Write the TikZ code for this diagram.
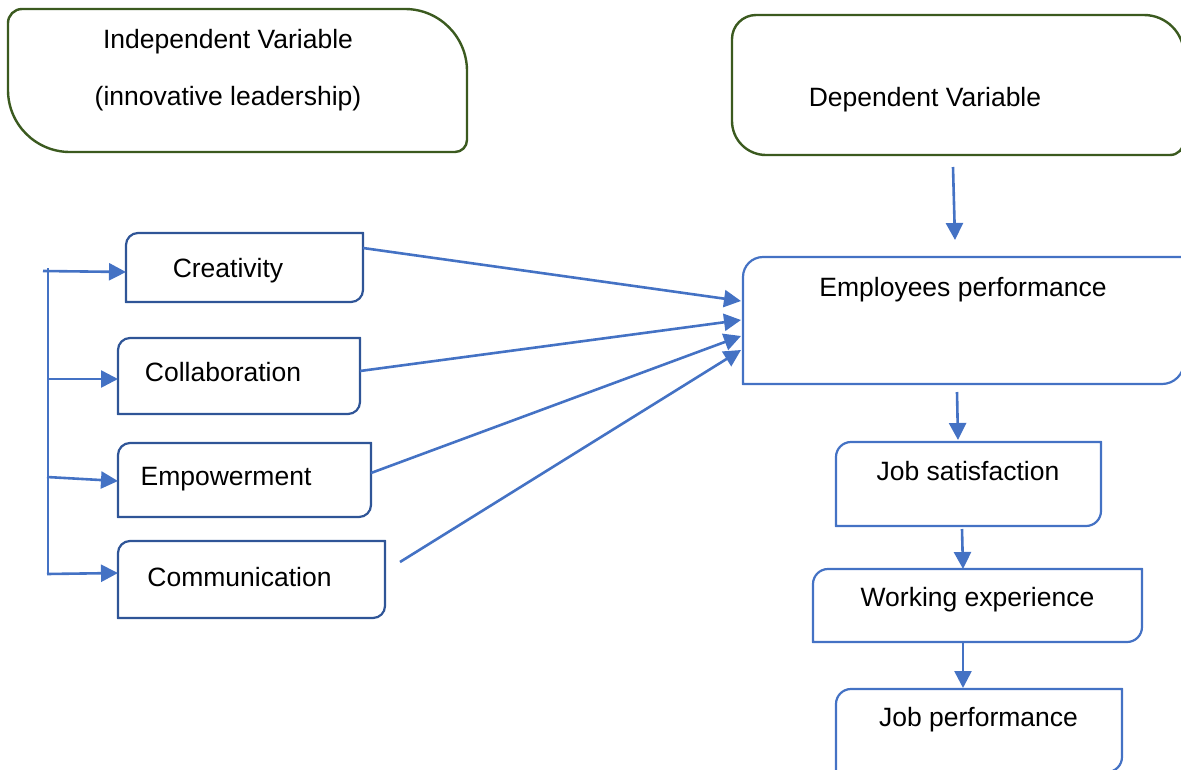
\documentclass[tikz,border=0pt]{standalone}
\usepackage{fontspec}
\setmainfont{Liberation Sans}
\usetikzlibrary{arrows.meta,calc}
\definecolor{linkblue}{HTML}{4472C4}
\definecolor{boxblue}{HTML}{2F5597}
\definecolor{vargreen}{HTML}{3B5A1F}

% outline of a node with its own radius at each corner:
% #1 style, #2 node, #3 top left, #4 top right, #5 bottom right, #6 bottom left
\newcommand\cornerbox[6]{%
  \draw[#1] ([xshift=#3]#2.north west) -- ([xshift=-#4]#2.north east)
    arc[start angle=90,end angle=0,radius=#4]
    -- ([yshift=#5]#2.south east)
    arc[start angle=0,end angle=-90,radius=#5]
    -- ([xshift=#6]#2.south west)
    arc[start angle=-90,end angle=-180,radius=#6]
    -- ([yshift=-#3]#2.north west)
    arc[start angle=180,end angle=90,radius=#3] -- cycle;}

\begin{document}
\begin{tikzpicture}[x=1pt,y=-1pt,
  area/.style={rectangle,draw=none,inner sep=0pt,outer sep=0pt},
  lbl/.style={anchor=base,inner sep=0pt,font=\fontsize{26.5}{30}\selectfont},
  greenline/.style={draw=vargreen,line width=2.4pt},
  leftline/.style={draw=boxblue,line width=2.2pt},
  rightline/.style={draw=linkblue,line width=2.2pt},
  arr/.style={draw=linkblue,line width=2.6pt,-{Triangle[length=17pt,width=17pt]}},
  bracket/.style={draw=linkblue,line width=1.6pt}]
\useasboundingbox (0,0) rectangle (1181,769);

% variable boxes
\node[area,minimum width=459pt,minimum height=143pt] (iv) at (237.5,80.5) {};
\node[area,minimum width=452pt,minimum height=140pt] (dv) at (958,85) {};
\cornerbox{greenline}{iv}{14pt}{62pt}{12pt}{62pt}
\cornerbox{greenline}{dv}{24pt}{40pt}{14pt}{34pt}
\node[lbl] (ivt) at (228,48) {Independent Variable};
\node[lbl] (ivs) at (228,105) {(innovative leadership)};
\node[lbl] (dvt) at (925,106) {Dependent Variable};

% dimensions of innovative leadership
\node[area,minimum width=237pt,minimum height=69pt] (crea) at (244.5,267.5) {};
\node[area,minimum width=242pt,minimum height=76pt] (coll) at (239,376) {};
\node[area,minimum width=253pt,minimum height=74pt] (empo) at (244.5,480) {};
\node[area,minimum width=267pt,minimum height=77pt] (comm) at (251.5,579.5) {};
\foreach \n in {crea,coll,empo,comm}
  {\cornerbox{leftline}{\n}{12pt}{0.01pt}{12pt}{0.01pt}}
\node[lbl] (creat) at (228,277) {Creativity};
\node[lbl] (collt) at (223,381.7) {Collaboration};
\node[lbl] (empot) at (226,485) {Empowerment};
\node[lbl] (commt) at (239.5,586.7) {Communication};

% outcome chain
\node[area,minimum width=441pt,minimum height=127pt] (ep) at (963.5,320.5) {};
\node[area,minimum width=265pt,minimum height=84pt] (js) at (968.5,484) {};
\node[area,minimum width=329pt,minimum height=73pt] (we) at (977.5,605.5) {};
\node[area,minimum width=286pt,minimum height=83pt] (jp) at (979,730.5) {};
\cornerbox{rightline}{ep}{20pt}{0.01pt}{22pt}{0.01pt}
\cornerbox{rightline}{js}{15pt}{0.01pt}{15pt}{0.01pt}
\cornerbox{rightline}{we}{15pt}{0.01pt}{15pt}{0.01pt}
\cornerbox{rightline}{jp}{15pt}{0.01pt}{15pt}{0.01pt}
\node[lbl] (ept) at (963,296) {Employees performance};
\node[lbl] (jst) at (968,480) {Job satisfaction};
\node[lbl] (wet) at (977.5,606.7) {Working experience};
\node[lbl] (jpt) at (978.5,726.7) {Job performance};

% bracket feeding the four dimensions
\coordinate (bt) at (48,268);
\coordinate (bb) at (48,574);
\coordinate (b1) at (43,271);
\coordinate (b2) at (47,379);
\coordinate (b3) at (47,477);
\coordinate (b4) at (47,574);
\draw[bracket] (bt) -- (bb);
\draw[arr] (b1) -- ([yshift=-4.5pt]crea.west);
\draw[arr] (b2) -- ([yshift=-3pt]coll.west);
\draw[arr] (b3) -- ([yshift=-1pt]empo.west);
\draw[arr] (b4) -- ([yshift=6.5pt]comm.west);

% dimensions to employees performance
\draw[arr] ([yshift=19.5pt]crea.east) -- ([xshift=-2pt,yshift=19.5pt]ep.west);
\draw[arr] ([yshift=5pt]coll.east) -- ([xshift=-2pt,yshift=0.5pt]ep.west);
\draw[arr] ([yshift=7pt]empo.east) -- ([xshift=-2pt,yshift=-15.5pt]ep.west);
\draw[arr] ([xshift=15pt,yshift=17.5pt]comm.east) -- ([xshift=-2pt,yshift=-29.5pt]ep.west);

% vertical chain
\draw[arr] ([xshift=-5pt,yshift=-12pt]dv.south) -- ([xshift=-8.5pt,yshift=17pt]ep.north);
\draw[arr] ([xshift=-6.5pt,yshift=-8pt]ep.south) -- ([xshift=-10.5pt,yshift=2pt]js.north);
\draw[arr] ([xshift=-6.5pt,yshift=-3pt]js.south) -- ([xshift=-14.5pt]we.north);
\draw[arr] ([xshift=-14.5pt]we.south) -- ([xshift=-16pt,yshift=1pt]jp.north);
\end{tikzpicture}
\end{document}
